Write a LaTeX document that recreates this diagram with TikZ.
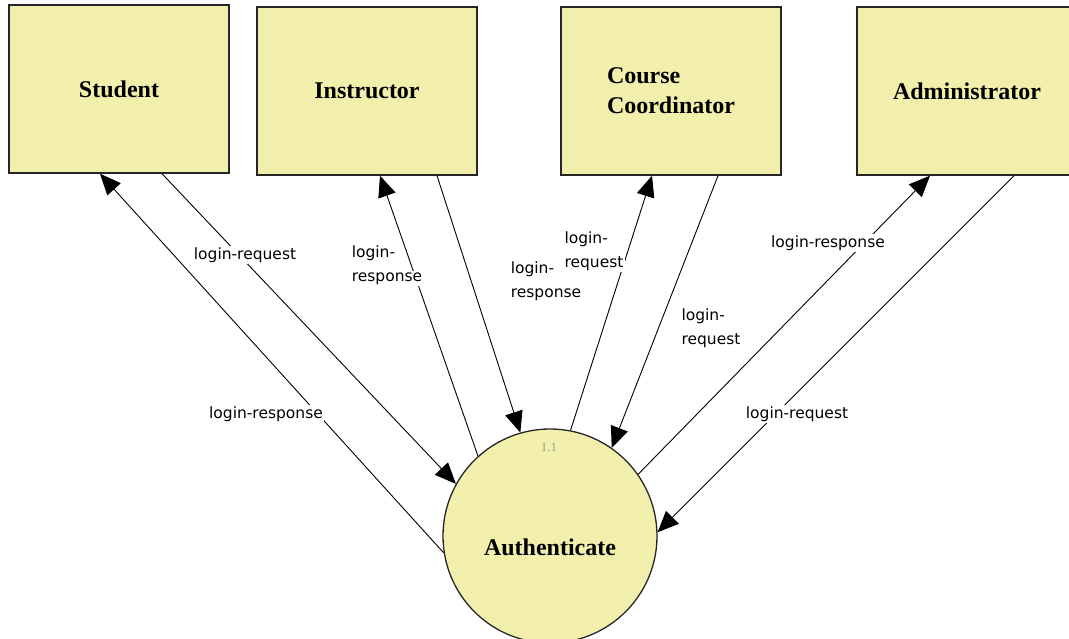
\documentclass[tikz,border=0pt]{standalone}
\usepackage{fontspec}
\setmainfont{Liberation Serif}
\newfontfamily\lblfont{DejaVu Sans}
\usetikzlibrary{arrows.meta}
\definecolor{entityfill}{RGB}{241,239,171}
\definecolor{numgray}{RGB}{160,160,145}
\setlength{\fboxsep}{1.5pt}
% white patch behind each line of a flow label, so the flow line breaks there
\newcommand{\flowtext}[1]{\colorbox{white}{#1}}

\begin{document}
\begin{tikzpicture}[x=1pt,y=-1pt,
  entity/.style={draw=black!85, line width=1.4pt, fill=entityfill,
    minimum width=220pt, minimum height=168pt, inner sep=0pt,
    font=\fontsize{24}{30}\selectfont\bfseries, align=center},
  process/.style={circle, draw=black!85, line width=1.3pt, fill=entityfill,
    minimum size=214pt, inner sep=0pt},
  proctext/.style={font=\fontsize{24}{30}\selectfont\bfseries},
  flow/.style={line width=0.9pt, -{Triangle[length=21pt,width=18pt]}},
  flowlbl/.style={inner sep=0pt, align=left,
    font=\lblfont\fontsize{15.5}{24}\selectfont},
  procid/.style={font=\fontsize{13}{13}\selectfont, text=numgray}
]
\useasboundingbox (0,0) rectangle (1069,638);
\clip (0,0) rectangle (1069,638);

% external entities
\node[entity] (stud)  at (119,89) {Student};
\node[entity] (inst)  at (367,91) {Instructor};
\node[entity, align=left] (coord) at (671,91) {Course\\Coordinator};
\node[entity] (admin) at (967,91) {Administrator};

% process bubble with its number and name
\node[process] (proc) at (550,536) {};
\node[procid] (pid) at (549,447) {1.1};
\node[proctext] (pname) at (550,547) {Authenticate};

% data flows
\draw[flow] (proc.189) -- ([xshift=-19pt]stud.south);
\draw[flow] ([xshift=43pt]stud.south) -- (proc.151);
\draw[flow] (proc.132) -- ([xshift=13pt]inst.south);
\draw[flow] ([xshift=70pt]inst.south) -- (proc.106);
\draw[flow] (proc.79) -- ([xshift=-19pt]coord.south);
\draw[flow] ([xshift=47pt]coord.south) -- (proc.55);
\draw[flow] (proc.35) -- ([xshift=-37pt]admin.south);
\draw[flow] ([xshift=47pt]admin.south) -- (proc.2);

% flow labels
\node[flowlbl] (l1) at (245,255) {\flowtext{login-request}};
\node[flowlbl] (l2) at (266,414) {\flowtext{login-response}};
\node[flowlbl] (l3) at (387,265) {\flowtext{login-}\\\flowtext{response}};
\node[flowlbl] (l4) at (594,251) {\flowtext{login-}\\\flowtext{request}};
\node[flowlbl] (l5) at (546,281) {\flowtext{login-}\\\flowtext{response}};
\node[flowlbl] (l6) at (711,328) {\flowtext{login-}\\\flowtext{request}};
\node[flowlbl] (l7) at (828,243) {\flowtext{login-response}};
\node[flowlbl] (l8) at (797,414) {\flowtext{login-request}};
\end{tikzpicture}
\end{document}
